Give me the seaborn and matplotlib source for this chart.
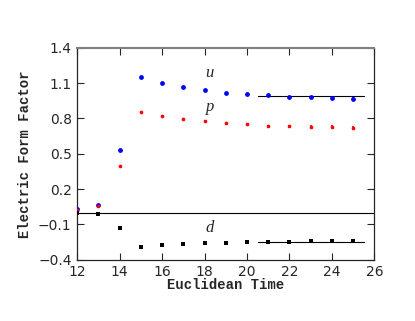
import numpy as np
import pandas as pd
import seaborn as sns
import matplotlib
matplotlib.use("Agg")
import matplotlib.pyplot as plt

# Euclidean time slices
t = [12, 13, 14, 15, 16, 17, 18, 19, 20, 21, 22, 23, 24, 25]

# form factor values
u_vals = [0.029, 0.066, 0.536, 1.148, 1.100, 1.066, 1.040, 1.020, 1.007, 0.995, 0.986, 0.981, 0.973, 0.964]
u_err = [0.004, 0.004, 0.004, 0.004, 0.004, 0.004, 0.004, 0.004, 0.004, 0.005, 0.006, 0.008, 0.010, 0.014]
p_vals = [0.021, 0.052, 0.397, 0.859, 0.822, 0.797, 0.780, 0.763, 0.752, 0.740, 0.735, 0.731, 0.731, 0.723]
p_err = [0.003, 0.003, 0.003, 0.003, 0.003, 0.003, 0.003, 0.004, 0.004, 0.005, 0.007, 0.010, 0.012, 0.016]
d_vals = [-0.002, -0.010, -0.135, -0.288, -0.276, -0.268, -0.259, -0.254, -0.251, -0.248, -0.246, -0.243, -0.243, -0.237]
d_err = [0.003, 0.003, 0.003, 0.003, 0.003, 0.003, 0.003, 0.003, 0.003, 0.004, 0.005, 0.006, 0.008, 0.011]

# plateau fits
fit_range = [20.5, 25.5]
u_fit = 0.992
d_fit = -0.248

df = pd.DataFrame({"t": t * 3,
                   "val": u_vals + p_vals + d_vals,
                   "err": u_err + p_err + d_err,
                   "q": ["u"] * len(t) + ["p"] * len(t) + ["d"] * len(t)})

sns.set_style("ticks")
fig = plt.figure(figsize=(4.15, 3.21), dpi=100)
ax = fig.add_axes([0.186, 0.191, 0.716, 0.660])

ax.axhline(0, color="black", lw=0.8, zorder=1)
ax.plot(fit_range, [u_fit, u_fit], color="black", lw=0.8, zorder=1)
ax.plot(fit_range, [d_fit, d_fit], color="black", lw=0.8, zorder=1)

styles = {"u": ("blue", "o", 12), "p": ("red", "o", 7), "d": ("black", "s", 8)}
for q, (c, m, s) in styles.items():
    sub = df[df.q == q]
    ax.errorbar(sub.t, sub.val, yerr=sub.err, fmt="none", ecolor=c, elinewidth=1.2, capsize=0, zorder=2)
    sns.scatterplot(data=sub, x="t", y="val", color=c, marker=m, s=s, linewidth=0, ax=ax, zorder=3)

lab = dict(fontsize=12, style="italic", family="Liberation Serif")
ax.text(18.05, 1.155, "u", **lab)
ax.text(18.05, 0.86, "p", **lab)
ax.text(18.05, -0.165, "d", **lab)

ax.set_xlim(12, 26)
ax.set_ylim(-0.4, 1.4)
ax.set_xticks([12, 14, 16, 18, 20, 22, 24, 26])
ax.set_yticks([-0.4, -0.1, 0.2, 0.5, 0.8, 1.1, 1.4])
ax.set_yticklabels(["\u22120.4", "\u22120.1", "0.2", "0.5", "0.8", "1.1", "1.4"])
ax.tick_params(direction="in", top=True, right=True, length=5, width=0.8, labelsize=10, pad=4)
for sp in ax.spines.values():
    sp.set_linewidth(0.9)
ax.spines["top"].set_color("gray")
ax.spines["top"].set_linewidth(1.5)

mono = dict(family="Liberation Mono", weight="bold", fontsize=10)
ax.set_xlabel("Euclidean Time", labelpad=-1, **mono)
ax.set_ylabel("Electric Form Factor", labelpad=4, **mono)

fig.savefig("out.png", dpi=100)
